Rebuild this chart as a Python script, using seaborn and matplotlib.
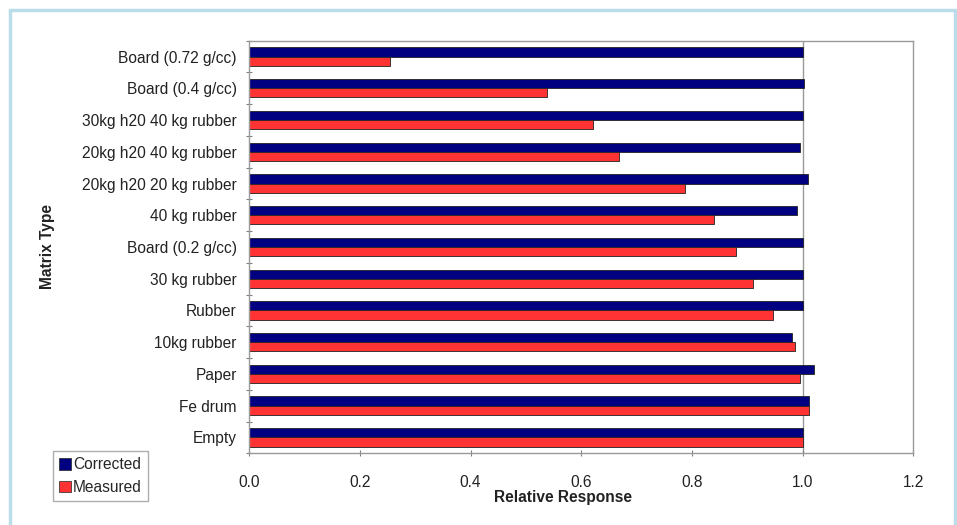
import numpy as np
import pandas as pd
import matplotlib
matplotlib.use('Agg')
import matplotlib.pyplot as plt
from matplotlib.patches import Patch
from matplotlib.lines import Line2D
from matplotlib.ticker import FixedLocator
import seaborn as sns

# data
matrix_types = ['Board (0.72 g/cc)', 'Board (0.4 g/cc)', '30kg h20 40 kg rubber',
                '20kg h20 40 kg rubber', '20kg h20 20 kg rubber', '40 kg rubber',
                'Board (0.2 g/cc)', '30 kg rubber', 'Rubber', '10kg rubber',
                'Paper', 'Fe drum', 'Empty']
corrected = [1.000, 1.003, 1.000, 0.995, 1.010, 0.989, 1.000, 1.000, 1.000, 0.980, 1.021, 1.012, 1.000]
measured = [0.254, 0.538, 0.622, 0.669, 0.788, 0.839, 0.880, 0.911, 0.946, 0.986, 0.996, 1.012, 1.000]
series = ['Corrected', 'Measured']
x_ticks = [0.0, 0.2, 0.4, 0.6, 0.8, 1.0, 1.2]

colors = {'Corrected': '#000080', 'Measured': '#FF3333'}

df = pd.DataFrame({
    'Matrix Type': matrix_types * 2,
    'Relative Response': corrected + measured,
    'Series': ['Corrected'] * len(matrix_types) + ['Measured'] * len(matrix_types),
})

sns.set_style('white')
plt.rcParams['font.family'] = ['Liberation Sans', 'DejaVu Sans']
fs = 11.2

fig = plt.figure(figsize=(9.57, 5.25), dpi=100)
ax = fig.add_axes([0.2605, 0.1366, 0.6938, 0.7859])

ax.axvline(1.0, color='#9a9a9a', lw=1.0, zorder=0)
sns.barplot(data=df, y='Matrix Type', x='Relative Response', hue='Series',
            order=matrix_types, hue_order=series, palette=colors, saturation=1,
            orient='h', width=0.58, gap=0, ax=ax,
            edgecolor='#222222', linewidth=0.6, legend=False, zorder=2)

ax.set_xlim(0, 1.2)
ax.set_ylim(len(matrix_types) - 0.5, -0.5)
ax.set_xticks(x_ticks)
ax.set_xticklabels(['%.1f' % t for t in x_ticks])
ax.yaxis.set_minor_locator(FixedLocator(np.arange(-0.5, len(matrix_types), 1.0)))
ax.tick_params(axis='y', which='major', length=0, pad=9, labelsize=fs, labelcolor='#222222')
ax.tick_params(axis='y', which='minor', length=5, direction='inout', color='#808080', width=0.8, left=True)
ax.tick_params(axis='x', which='major', length=5, direction='inout', color='#808080', width=0.8,
               pad=13, labelsize=fs, labelcolor='#222222', bottom=True)

for s in ax.spines.values():
    s.set_color('#9a9a9a')
    s.set_linewidth(1.0)

ax.set_ylabel('Matrix Type', fontsize=fs, fontweight='bold', color='#222222')
ax.set_xlabel('Relative Response', fontsize=fs, fontweight='bold', color='#222222')
ax.yaxis.set_label_coords(-0.293, 0.5)
ax.xaxis.set_label_coords(0.472, -0.09)

handles = [Patch(facecolor=colors[s], edgecolor='#222222', linewidth=0.5) for s in series]
fig.legend(handles, series, loc='lower left', bbox_to_anchor=(0.055, 0.045),
           frameon=True, fancybox=False, edgecolor='#999999', fontsize=fs,
           handlelength=0.75, handleheight=0.75, handletextpad=0.15,
           labelspacing=0.5, borderpad=0.4, borderaxespad=0)

# light blue frame around the picture (top, left, right)
bc = '#BBDDE9'
fig.add_artist(Line2D([10 / 957, 10 / 957], [0, 1 - 10 / 525], color=bc, lw=2.5, transform=fig.transFigure))
fig.add_artist(Line2D([955 / 957, 955 / 957], [0, 1 - 10 / 525], color=bc, lw=2.5, transform=fig.transFigure))
fig.add_artist(Line2D([10 / 957, 955 / 957], [1 - 10 / 525, 1 - 10 / 525], color=bc, lw=2.5, transform=fig.transFigure))

fig.savefig('out.png', dpi=100)
